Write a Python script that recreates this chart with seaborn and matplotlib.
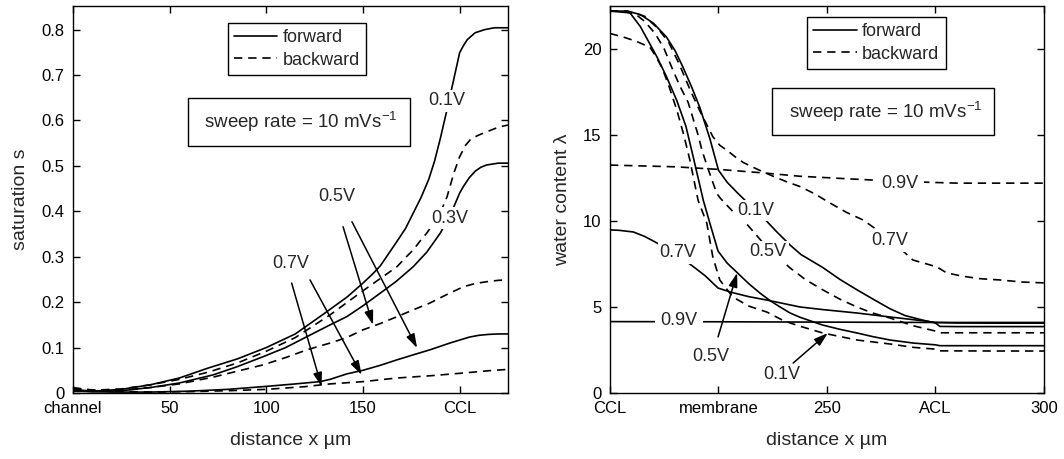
import numpy as np
import pandas as pd
import seaborn as sns
import matplotlib.pyplot as plt
from matplotlib.lines import Line2D

# ---- left panel: saturation s (channel -> CCL) ----
# 0.1V forward / backward
s_x_f1 = [0, 10, 25, 40, 55, 70, 85, 100, 115, 130, 142, 150, 155, 159, 163, 167, 172, 176, 180, 184, 187, 190, 193, 196, 198.5, 200, 202, 204, 208, 213, 218, 225]
s_y_f1 = [0.008, 0.004, 0.008, 0.018, 0.033, 0.055, 0.075, 0.1, 0.13, 0.175, 0.212, 0.242, 0.262, 0.28, 0.305, 0.33, 0.362, 0.396, 0.43, 0.47, 0.51, 0.56, 0.615, 0.672, 0.72, 0.749, 0.765, 0.778, 0.793, 0.8, 0.804, 0.804]
s_x_b1 = [0, 10, 25, 40, 55, 70, 85, 100, 115, 133, 150, 167.6, 172, 176, 180, 183, 186, 190, 193.5, 197, 200, 203, 206, 210, 214, 220, 225]
s_y_b1 = [0.012, 0.006, 0.009, 0.018, 0.03, 0.046, 0.066, 0.092, 0.122, 0.172, 0.225, 0.278, 0.298, 0.315, 0.337, 0.352, 0.37, 0.397, 0.432, 0.484, 0.52, 0.545, 0.56, 0.568, 0.575, 0.585, 0.59]
# 0.3V forward
s_x_f3 = [0, 10, 25, 40, 55, 72.6, 85, 98.4, 110, 121, 133, 141.6, 150, 159, 167, 176, 183, 186, 190, 193, 195, 198.5, 200, 202, 205, 208, 211, 214, 220, 225]
s_y_f3 = [0.006, 0.003, 0.005, 0.012, 0.022, 0.04, 0.058, 0.08, 0.1, 0.124, 0.15, 0.168, 0.192, 0.22, 0.245, 0.278, 0.31, 0.328, 0.352, 0.375, 0.39, 0.425, 0.44, 0.455, 0.474, 0.488, 0.497, 0.502, 0.506, 0.506]
# 0.5V backward
s_x_b5 = [0, 10, 25, 40, 55, 72.6, 85, 98.4, 110, 121, 133, 141.6, 150, 159, 167.6, 176, 184.6, 193, 202, 208, 214, 220, 225]
s_y_b5 = [0.01, 0.005, 0.006, 0.012, 0.02, 0.035, 0.048, 0.062, 0.078, 0.095, 0.11, 0.122, 0.139, 0.153, 0.168, 0.183, 0.198, 0.216, 0.234, 0.241, 0.245, 0.248, 0.249]
# 0.5V forward
s_x_f5 = [0, 20, 40, 60, 80, 98.4, 115, 127.7, 133, 141.6, 150, 159, 167.6, 176, 184.6, 195, 205, 210, 215, 220, 225]
s_y_f5 = [0.004, 0.002, 0.002, 0.004, 0.008, 0.014, 0.02, 0.025, 0.03, 0.042, 0.05, 0.061, 0.073, 0.084, 0.095, 0.11, 0.123, 0.127, 0.129, 0.13, 0.13]
# 0.7V backward
s_x_b7 = [0, 20, 40, 60, 80, 100, 120, 133, 150, 167.6, 185, 202, 215, 225]
s_y_b7 = [0.01, 0.004, 0.002, 0.003, 0.005, 0.008, 0.014, 0.02, 0.025, 0.033, 0.038, 0.044, 0.049, 0.052]

# ---- right panel: water content (CCL -> ACL) ----
w_x_f1 = [200, 204, 207, 210, 213, 215, 216.8, 218.8, 220.7, 223, 225, 227, 229.5, 233.6, 235.3, 238.5, 241.5, 244, 249, 253, 256.9, 261, 264.5, 268, 272, 275, 276, 280, 290, 300]
w_y_f1 = [22.2, 22.2, 22.0, 21.5, 20.7, 19.9, 18.95, 17.8, 16.6, 14.8, 12.95, 12.25, 11.6, 10.6, 10.2, 9.35, 8.6, 8.05, 7.3, 6.6, 6.0, 5.4, 4.9, 4.5, 4.24, 4.07, 3.87, 3.86, 3.86, 3.86]
w_x_f5 = [200, 204.6, 207, 210.8, 213, 215.4, 217.5, 219.2, 221.5, 223, 224.9, 227, 229.3, 232, 234.6, 237, 239.2, 241.5, 243.8, 249, 253, 256.9, 260.5, 264.5, 270, 275, 276, 290, 300]
w_y_f5 = [22.2, 22.1, 21.3, 19.55, 18.4, 17.0, 15.5, 13.7, 11.2, 9.88, 8.25, 7.55, 7.0, 6.35, 5.8, 5.35, 5.0, 4.65, 4.4, 3.95, 3.7, 3.49, 3.28, 3.08, 2.9, 2.8, 2.75, 2.75, 2.75]
w_x_f7 = [200, 202, 205.4, 208, 210.4, 213, 215.7, 219.6, 222, 224.9, 228, 232, 236.2, 240, 243.8, 249, 256.9, 264.5, 272, 275, 280, 290, 300]
w_y_f7 = [9.48, 9.46, 9.36, 9.1, 8.78, 8.4, 8.0, 7.27, 6.8, 6.1, 5.85, 5.6, 5.4, 5.2, 5.0, 4.85, 4.65, 4.42, 4.2, 4.1, 4.07, 4.06, 4.06]
w_x_f9 = [200, 225, 250, 275, 300]
w_y_f9 = [4.15, 4.14, 4.12, 4.1, 4.1]
w_x_b1 = [200, 203, 206, 209.2, 210.5, 212, 213.5, 215.4, 217, 218.4, 220.3, 222.3, 223.7, 225.3, 228.3, 232, 236.2, 240, 243.8, 249, 256.9, 264.5, 270, 275, 276, 290, 300]
w_y_b1 = [20.9, 20.7, 20.45, 20.1, 19.6, 18.9, 17.9, 16.45, 15.0, 13.55, 11.2, 9.88, 7.9, 6.57, 5.58, 5.05, 4.7, 4.2, 3.88, 3.49, 3.08, 2.85, 2.65, 2.55, 2.45, 2.44, 2.44]
w_x_b5 = [200, 203, 206, 208, 210.4, 212.5, 214.2, 216, 218, 220.3, 221.2, 222.5, 224.6, 225.5, 227, 228.5, 230.7, 236.4, 241.5, 245, 249, 253, 256.9, 260.5, 264.5, 270, 275, 276, 290, 300]
w_y_b5 = [22.2, 22.2, 22.0, 21.6, 20.9, 20.0, 18.95, 17.9, 16.9, 15.0, 14.1, 13.1, 11.6, 11.3, 10.9, 10.5, 10.06, 8.4, 7.27, 6.6, 6.0, 5.45, 5.0, 4.65, 4.36, 3.9, 3.6, 3.5, 3.5, 3.5]
w_x_b7 = [200, 204, 208, 211, 213.5, 216, 218.5, 220.7, 222.3, 223.7, 225.3, 227, 229, 230.7, 234, 237.6, 240.5, 243.8, 247, 251, 254.5, 258.3, 262, 266, 269.8, 273, 275.3, 277.6, 281, 285, 289.9, 295, 300]
w_y_b7 = [22.2, 22.2, 21.9, 21.2, 20.4, 19.1, 17.6, 16.4, 15.6, 14.9, 14.4, 14.1, 13.7, 13.4, 13.0, 12.6, 12.3, 12.0, 11.6, 11.0, 10.5, 10.06, 9.4, 8.6, 7.73, 7.5, 7.33, 6.98, 6.8, 6.65, 6.57, 6.45, 6.4]
w_x_b9 = [200, 215, 225, 235, 243.8, 255, 266.8, 280, 290, 300]
w_y_b9 = [13.25, 13.15, 13.0, 12.8, 12.6, 12.45, 12.3, 12.2, 12.2, 12.2]

left_ticks = [0, 50, 100, 150, 200]
left_ticklabels = ['channel', '50', '100', '150', 'CCL']
right_ticks = [200, 225, 250, 275, 300]
right_ticklabels = ['CCL', 'membrane', '250', 'ACL', '300']


def to_frame(curves):
    rows = []
    for name, sweep, xs, ys in curves:
        for x, y in zip(xs, ys):
            rows.append((name, sweep, x, y))
    return pd.DataFrame(rows, columns=['curve', 'sweep', 'x', 'y'])


sat = to_frame([
    ('f1', 'forward', s_x_f1, s_y_f1), ('b1', 'backward', s_x_b1, s_y_b1),
    ('f3', 'forward', s_x_f3, s_y_f3), ('b5', 'backward', s_x_b5, s_y_b5),
    ('f5', 'forward', s_x_f5, s_y_f5), ('b7', 'backward', s_x_b7, s_y_b7),
])
wat = to_frame([
    ('f1', 'forward', w_x_f1, w_y_f1), ('f5', 'forward', w_x_f5, w_y_f5),
    ('f7', 'forward', w_x_f7, w_y_f7), ('f9', 'forward', w_x_f9, w_y_f9),
    ('b1', 'backward', w_x_b1, w_y_b1), ('b5', 'backward', w_x_b5, w_y_b5),
    ('b7', 'backward', w_x_b7, w_y_b7), ('b9', 'backward', w_x_b9, w_y_b9),
])

sns.set_theme(style='ticks')
plt.rcParams['font.family'] = ['Liberation Sans', 'DejaVu Sans']
plt.rcParams['mathtext.fontset'] = 'custom'
plt.rcParams['mathtext.rm'] = 'Liberation Sans'

dash_map = {'forward': '', 'backward': (5, 3.5)}

fig = plt.figure(figsize=(10.64, 4.59), dpi=100)
ax1 = fig.add_axes([0.0686, 0.1438, 0.4088, 0.8432])
ax2 = fig.add_axes([0.5733, 0.1438, 0.4079, 0.8432])

for ax, df in [(ax1, sat), (ax2, wat)]:
    sns.lineplot(data=df, x='x', y='y', units='curve', estimator=None, sort=False,
                 style='sweep', dashes=dash_map, color='black', linewidth=1.2,
                 legend=False, ax=ax)

lbl = dict(fontsize=13, ha='center', va='center', zorder=6)
white = dict(boxstyle='square,pad=0.12', fc='white', ec='none')
arw = dict(arrowstyle='-|>,head_length=0.7,head_width=0.22', color='black', lw=1.1, shrinkA=0, shrinkB=0)

# left panel annotations
ax1.text(193.5, 0.643, '0.1V', bbox=white, **lbl)
ax1.text(195, 0.385, '0.3V', bbox=white, **lbl)
ax1.text(136.6, 0.432, '0.5V', **lbl)
ax1.text(112.8, 0.286, '0.7V', **lbl)
ax1.annotate('', xy=(155.2, 0.15), xytext=(139.7, 0.366), arrowprops=arw)
ax1.annotate('', xy=(178, 0.099), xytext=(144.3, 0.377), arrowprops=arw)
ax1.annotate('', xy=(128.6, 0.014), xytext=(113.1, 0.242), arrowprops=arw)
ax1.annotate('', xy=(149.3, 0.04), xytext=(122.6, 0.249), arrowprops=arw)

# right panel annotations
ax2.text(233.6, 10.6, '0.1V', bbox=white, **lbl)
ax2.text(236.4, 8.2, '0.5V', bbox=white, **lbl)
ax2.text(215.7, 8.14, '0.7V', bbox=white, **lbl)
ax2.text(215.9, 4.2, '0.9V', bbox=dict(boxstyle='square,pad=0.3', fc='white', ec='none'), **lbl)
ax2.text(264.5, 8.84, '0.7V', bbox=white, **lbl)
ax2.text(266.8, 12.2, '0.9V', bbox=dict(boxstyle='square,pad=0.3', fc='white', ec='none'), **lbl)
ax2.text(223.3, 2.1, '0.5V', **lbl)
ax2.text(239.6, 1.05, '0.1V', **lbl)
ax2.annotate('', xy=(229.3, 6.98), xytext=(224.9, 3.26), arrowprops=arw)
ax2.annotate('', xy=(250.2, 3.49), xytext=(242.2, 1.74), arrowprops=arw)

handles = [Line2D([], [], color='black', lw=1.2),
           Line2D([], [], color='black', lw=1.2, dashes=(5, 3.5))]
for ax, anchor, box in [(ax1, (0.356, 0.956), (0.52, 0.70)), (ax2, (0.454, 0.972), (0.63, 0.727))]:
    leg = ax.legend(handles, ['forward', 'backward'], loc='upper left', bbox_to_anchor=anchor,
                    borderaxespad=0, fancybox=False, edgecolor='black', framealpha=1,
                    fontsize=13, handlelength=2.4, handletextpad=0.3, labelspacing=0.3,
                    borderpad=0.35)
    leg.get_frame().set_linewidth(1.0)
    ax.text(box[0], box[1], ' sweep rate = 10 mVs$^{-1}$ ', transform=ax.transAxes,
            ha='center', va='center', fontsize=13.5, zorder=7,
            bbox=dict(boxstyle='square,pad=0.6', fc='white', ec='black', lw=1.0))

ax1.set_xlim(0, 225)
ax1.set_ylim(0, 0.852)
ax1.set_xticks(left_ticks)
ax1.set_xticklabels(left_ticklabels)
ax1.set_yticks(np.arange(0, 0.81, 0.1))
ax1.set_yticklabels(['0', '0.1', '0.2', '0.3', '0.4', '0.5', '0.6', '0.7', '0.8'])
ax1.set_ylabel('saturation s', fontsize=14, labelpad=9)

ax2.set_xlim(200, 300)
ax2.set_ylim(0, 22.5)
ax2.set_xticks(right_ticks)
ax2.set_xticklabels(right_ticklabels)
ax2.set_yticks([0, 5, 10, 15, 20])
ax2.set_ylabel('water content λ', fontsize=14, labelpad=9)

for ax in (ax1, ax2):
    ax.set_xlabel('distance x µm', fontsize=14, labelpad=11)
    ax.tick_params(direction='in', top=True, right=True, length=5, width=1,
                   labelsize=12, color='black', labelcolor='black', pad=6)
    for sp in ax.spines.values():
        sp.set_color('black')
        sp.set_linewidth(1.0)

fig.savefig('out.png', dpi=100)
